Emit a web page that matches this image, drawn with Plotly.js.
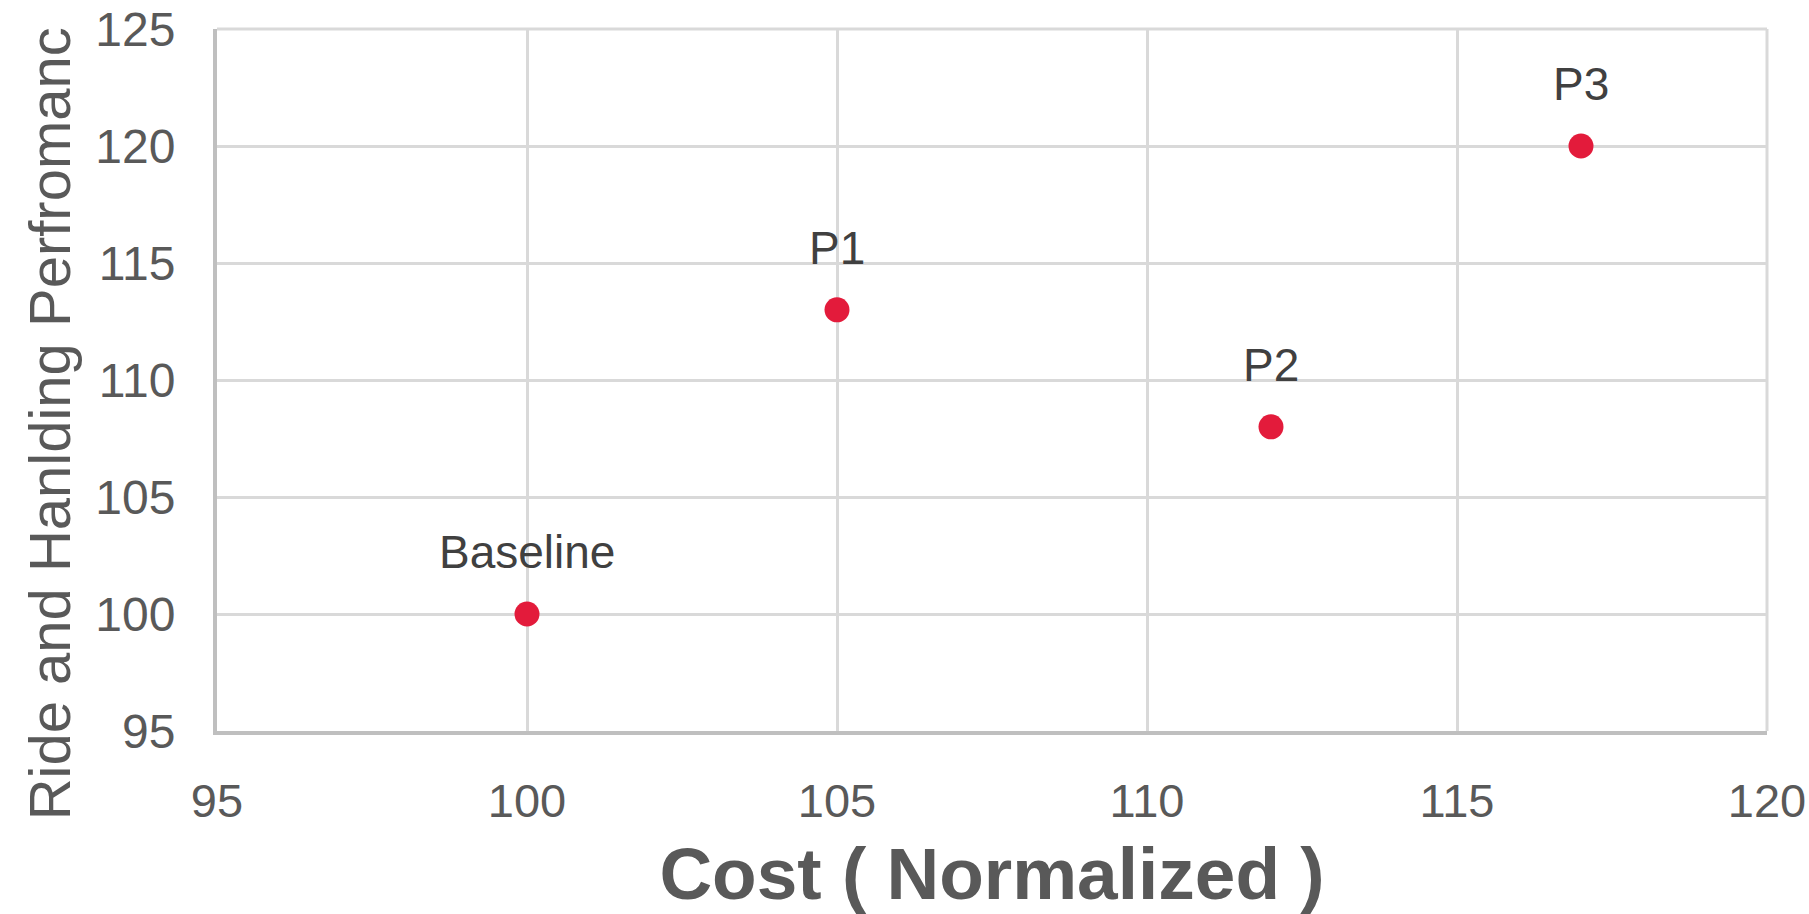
<!DOCTYPE html>
<html>
<head>
<meta charset="utf-8">
<script src="https://cdn.plot.ly/plotly-3.0.1.min.js"></script>
<style>html,body{margin:0;padding:0;background:#fff;}#chart{width:1809px;height:914px;}</style>
</head>
<body>
<div id="chart"></div>
<script>
const pointLabels = ['Baseline', 'P1', 'P2', 'P3'];
const costValues = [100, 105, 112, 117];
const performanceValues = [100, 113, 108, 120];
const xTickValues = [95, 100, 105, 110, 115, 120];
const yTickValues = [95, 100, 105, 110, 115, 120, 125];
const xTitle = 'Cost ( Normalized )';
const yTitle = 'Ride and Hanlding Perfromanc';

const FONT = 'Liberation Sans, Arial, sans-serif';

const trace = {
  type: 'scatter',
  mode: 'markers',
  x: costValues,
  y: performanceValues,
  marker: {color: '#e31b3b', size: 25},
  hoverinfo: 'x+y',
  showlegend: false
};

const annotations = pointLabels.map((t, i) => ({
  x: costValues[i], y: performanceValues[i], xref: 'x', yref: 'y',
  text: t, showarrow: false, xanchor: 'center', yanchor: 'bottom',
  yshift: 34,
  font: {family: FONT, size: 46, color: '#404040'}
}));

annotations.push({
  xref: 'paper', yref: 'paper', x: -0.108, y: -0.13,
  xanchor: 'center', yanchor: 'bottom', textangle: -90,
  text: yTitle, showarrow: false,
  font: {family: FONT, size: 58, color: '#595959'}
});

const layout = {
  width: 1809, height: 914,
  margin: {l: 217, r: 42, t: 29, b: 183},
  paper_bgcolor: '#ffffff', plot_bgcolor: '#ffffff',
  font: {family: FONT, color: '#595959'},
  xaxis: {
    range: [95, 120], tickvals: xTickValues, ticktext: xTickValues.map(String),
    showgrid: true, gridcolor: '#d9d9d9', gridwidth: 3,
    showline: true, linecolor: '#bfbfbf', linewidth: 4,
    zeroline: false, ticks: '', ticklabelstandoff: 26,
    tickfont: {family: FONT, size: 47, color: '#595959'},
    title: {text: xTitle, standoff: 30, font: {family: FONT, size: 73, color: '#595959', weight: 'bold'}}
  },
  yaxis: {
    range: [95, 125], tickvals: yTickValues, ticktext: yTickValues.map(String),
    showgrid: true, gridcolor: '#d9d9d9', gridwidth: 3,
    showline: true, linecolor: '#bfbfbf', linewidth: 4,
    zeroline: false, ticks: '', ticklabelstandoff: 28,
    tickfont: {family: FONT, size: 48, color: '#595959'}
  },
  annotations: annotations,
  shapes: [
    {type: 'line', xref: 'paper', yref: 'paper', x0: 0, x1: 1, y0: 1, y1: 1, line: {color: '#d9d9d9', width: 3}},
    {type: 'line', xref: 'paper', yref: 'paper', x0: 1, x1: 1, y0: 0, y1: 1, line: {color: '#d9d9d9', width: 3}}
  ]
};

Plotly.newPlot('chart', [trace], layout, {displayModeBar: false, staticPlot: true});
</script>
</body>
</html>
